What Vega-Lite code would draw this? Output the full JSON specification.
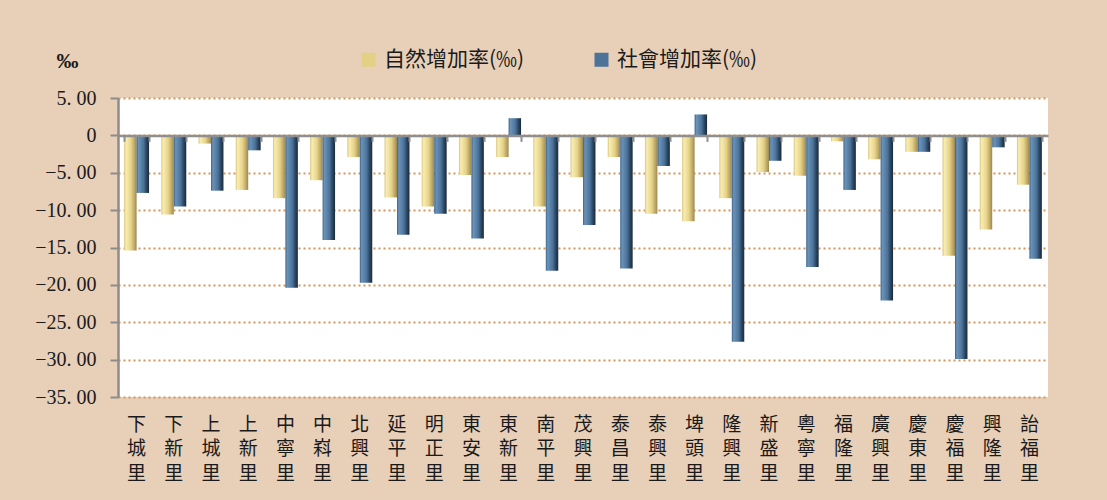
{
  "$schema": "https://vega.github.io/schema/vega-lite/v6.json",
  "width": 930,
  "height": 299,
  "autosize": {"type": "none"},
  "padding": {"left": 118, "top": 98, "right": 59, "bottom": 103},
  "background": "#E7CFB8",
  "config": {"view": {"fill": "white", "stroke": null}, "font": "Noto Sans CJK TC"},
  "data": {"values": [
    {"village": "下城里", "series": "自然增加率(‰)", "value": -15.4},
    {"village": "下城里", "series": "社會增加率(‰)", "value": -7.7},
    {"village": "下新里", "series": "自然增加率(‰)", "value": -10.6},
    {"village": "下新里", "series": "社會增加率(‰)", "value": -9.5},
    {"village": "上城里", "series": "自然增加率(‰)", "value": -1.1},
    {"village": "上城里", "series": "社會增加率(‰)", "value": -7.4},
    {"village": "上新里", "series": "自然增加率(‰)", "value": -7.3},
    {"village": "上新里", "series": "社會增加率(‰)", "value": -2.0},
    {"village": "中寧里", "series": "自然增加率(‰)", "value": -8.4},
    {"village": "中寧里", "series": "社會增加率(‰)", "value": -20.4},
    {"village": "中嵙里", "series": "自然增加率(‰)", "value": -6.0},
    {"village": "中嵙里", "series": "社會增加率(‰)", "value": -14.0},
    {"village": "北興里", "series": "自然增加率(‰)", "value": -2.9},
    {"village": "北興里", "series": "社會增加率(‰)", "value": -19.7},
    {"village": "延平里", "series": "自然增加率(‰)", "value": -8.3},
    {"village": "延平里", "series": "社會增加率(‰)", "value": -13.3},
    {"village": "明正里", "series": "自然增加率(‰)", "value": -9.5},
    {"village": "明正里", "series": "社會增加率(‰)", "value": -10.5},
    {"village": "東安里", "series": "自然增加率(‰)", "value": -5.3},
    {"village": "東安里", "series": "社會增加率(‰)", "value": -13.8},
    {"village": "東新里", "series": "自然增加率(‰)", "value": -2.9},
    {"village": "東新里", "series": "社會增加率(‰)", "value": 2.3},
    {"village": "南平里", "series": "自然增加率(‰)", "value": -9.5},
    {"village": "南平里", "series": "社會增加率(‰)", "value": -18.1},
    {"village": "茂興里", "series": "自然增加率(‰)", "value": -5.6},
    {"village": "茂興里", "series": "社會增加率(‰)", "value": -12.0},
    {"village": "泰昌里", "series": "自然增加率(‰)", "value": -2.9},
    {"village": "泰昌里", "series": "社會增加率(‰)", "value": -17.8},
    {"village": "泰興里", "series": "自然增加率(‰)", "value": -10.5},
    {"village": "泰興里", "series": "社會增加率(‰)", "value": -4.1},
    {"village": "埤頭里", "series": "自然增加率(‰)", "value": -11.5},
    {"village": "埤頭里", "series": "社會增加率(‰)", "value": 2.8},
    {"village": "隆興里", "series": "自然增加率(‰)", "value": -8.4},
    {"village": "隆興里", "series": "社會增加率(‰)", "value": -27.6},
    {"village": "新盛里", "series": "自然增加率(‰)", "value": -4.9},
    {"village": "新盛里", "series": "社會增加率(‰)", "value": -3.4},
    {"village": "粵寧里", "series": "自然增加率(‰)", "value": -5.4},
    {"village": "粵寧里", "series": "社會增加率(‰)", "value": -17.6},
    {"village": "福隆里", "series": "自然增加率(‰)", "value": -0.8},
    {"village": "福隆里", "series": "社會增加率(‰)", "value": -7.3},
    {"village": "廣興里", "series": "自然增加率(‰)", "value": -3.2},
    {"village": "廣興里", "series": "社會增加率(‰)", "value": -22.1},
    {"village": "慶東里", "series": "自然增加率(‰)", "value": -2.2},
    {"village": "慶東里", "series": "社會增加率(‰)", "value": -2.2},
    {"village": "慶福里", "series": "自然增加率(‰)", "value": -16.1},
    {"village": "慶福里", "series": "社會增加率(‰)", "value": -29.9},
    {"village": "興隆里", "series": "自然增加率(‰)", "value": -12.6},
    {"village": "興隆里", "series": "社會增加率(‰)", "value": -1.6},
    {"village": "詒福里", "series": "自然增加率(‰)", "value": -6.6},
    {"village": "詒福里", "series": "社會增加率(‰)", "value": -16.5}
  ]},
  "encoding": {
    "xOffset": {"field": "series", "type": "nominal", "sort": null,
      "scale": {"domain": ["自然增加率(‰)", "社會增加率(‰)"], "paddingInner": 0, "paddingOuter": 0}},
    "y": {"field": "value", "type": "quantitative",
      "scale": {"domain": [-35, 5], "nice": false, "zero": false},
      "axis": {
        "values": [5, 0, -5, -10, -15, -20, -25, -30, -35],
        "labelExpr": "datum.value == 0 ? '0' : replace(format(datum.value, '.2f'), '.', '. ')",
        "labelFont": "Liberation Serif", "labelFontSize": 20, "labelColor": "#1a1a1a",
        "labelPadding": 14,
        "domainColor": "#8c8c8c", "domainWidth": 2.5,
        "tickColor": "#8c8c8c", "tickWidth": 2, "tickSize": 8,
        "grid": true, "gridColor": "#D4955A", "gridDash": [2, 3], "gridWidth": 2,
        "title": "‰", "titleAngle": 0, "titleX": -51, "titleY": -38,
        "titleAlign": "center", "titleBaseline": "middle",
        "titleFont": "Liberation Serif", "titleFontSize": 22, "titleFontWeight": "bold", "titleColor": "#1a1a1a"
      }},
    "color": {"field": "series", "type": "nominal", "sort": null,
      "scale": {"domain": ["自然增加率(‰)", "社會增加率(‰)"], "range": ["#E3D084", "#4E7398"]},
      "legend": {"orient": "none", "legendX": 240, "legendY": -49, "direction": "horizontal",
        "title": null, "symbolType": "square", "symbolSize": 196, "symbolStrokeWidth": 0,
        "labelFontSize": 21, "labelFont": "Noto Sans CJK TC", "labelColor": "#1a1a1a",
        "columnPadding": 66, "labelOffset": 5, "padding": 0}}
  },
  "layer": [
    {
      "transform": [{"filter": "datum.series === '自然增加率(‰)'"}],
      "mark": {"type": "bar", "fill": {"gradient": "linear", "x1": 0, "x2": 1, "y1": 0, "y2": 0,
        "stops": [
          {"offset": 0, "color": "#D8C47A"},
          {"offset": 0.15, "color": "#F8EDB2"},
          {"offset": 0.55, "color": "#E6D388"},
          {"offset": 0.85, "color": "#B9A363"},
          {"offset": 1, "color": "#9A8650"}
        ]}},
      "encoding": {
        "x": {"field": "village", "type": "nominal", "sort": null,
          "scale": {"paddingInner": 0.33, "paddingOuter": 0.165},
          "axis": {"orient": "bottom", "title": null, "ticks": false, "domain": false, "grid": false,
            "labelAngle": 0, "labelExpr": "split(datum.label, '')",
            "labelFont": "Noto Sans CJK TC", "labelFontSize": 19, "labelLineHeight": 24.5,
            "labelPadding": 18, "labelBaseline": "top", "labelAlign": "center",
            "labelColor": "#1a1a1a", "labelOverlap": false}}
      }
    },
    {
      "transform": [{"filter": "datum.series === '社會增加率(‰)'"}],
      "mark": {"type": "bar", "fill": {"gradient": "linear", "x1": 0, "x2": 1, "y1": 0, "y2": 0,
        "stops": [
          {"offset": 0, "color": "#3D6288"},
          {"offset": 0.15, "color": "#6A93BA"},
          {"offset": 0.55, "color": "#4C7399"},
          {"offset": 0.8, "color": "#2A4560"},
          {"offset": 1, "color": "#1A2A3A"}
        ]}},
      "encoding": {
        "x": {"field": "village", "type": "nominal", "sort": null,
          "scale": {"paddingInner": 0.33, "paddingOuter": 0.165},
          "axis": {"orient": "bottom", "title": null, "labels": false, "grid": false,
            "offset": -261.6, "tickBand": "extent",
            "domainColor": "#8f8f8f", "domainWidth": 2.5,
            "tickColor": "#8f8f8f", "tickWidth": 2, "tickSize": 6, "zindex": 1}}
      }
    }
  ],
  "resolve": {"axis": {"x": "independent"}}
}
